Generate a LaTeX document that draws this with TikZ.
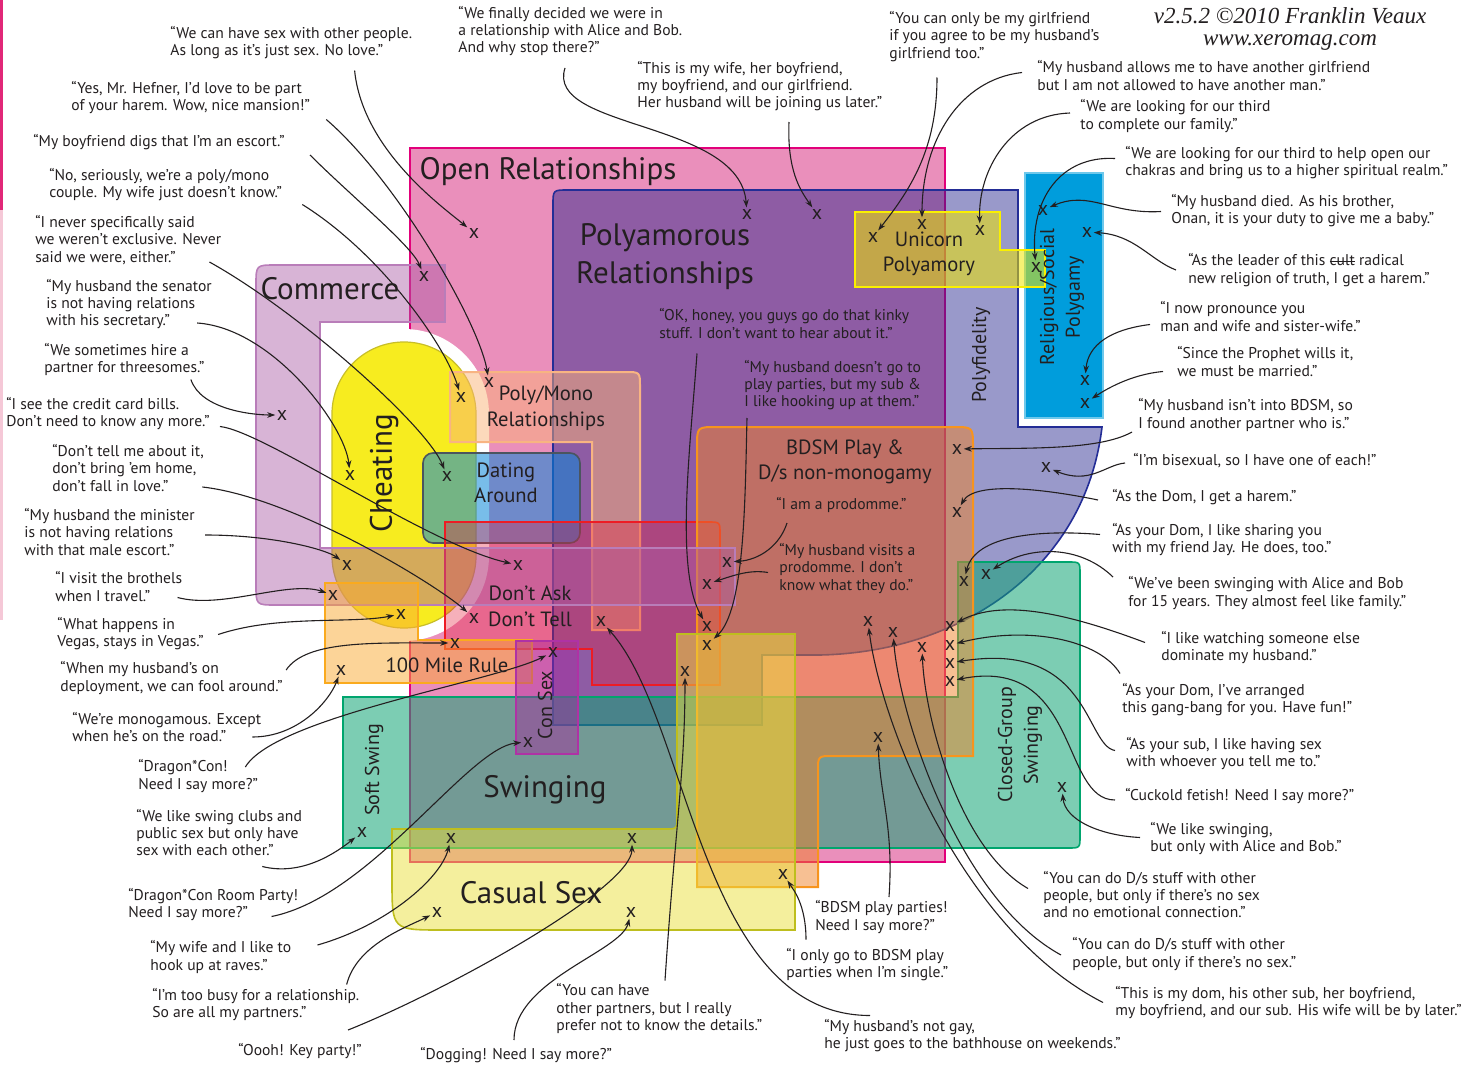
\documentclass[tikz,border=0pt]{standalone}
\usepackage{fontspec}
\usetikzlibrary{positioning,arrows.meta,calc}
\newfontfamily\labfont{PT Sans}
\newfontfamily\credfont{Liberation Serif}
\newcommand\qtfont{\labfont\fontsize{7.8}{8.6}\selectfont}
\newcommand\xmfont{\labfont\fontsize{10}{10}\selectfont}
\newcommand\biglabfont{\labfont\fontsize{15.5}{19}\selectfont}
\newcommand\midlabfont{\labfont\fontsize{10.3}{12.8}\selectfont}
\newcommand\smlabfont{\labfont\fontsize{10}{12.8}\selectfont}
\newcommand\strikeword[1]{\setbox0\hbox{#1}\rlap{\rule[0.27em]{\wd0}{0.4pt}}\box0\relax}
\definecolor{ink}{RGB}{35,31,32}
\definecolor{openfill}{RGB}{234,143,187}
\definecolor{openline}{RGB}{226,0,122}
\definecolor{cheatfill}{RGB}{247,236,31}
\definecolor{cheatline}{RGB}{200,190,40}
\definecolor{commfill}{RGB}{170,90,165}
\definecolor{commline}{RGB}{185,125,185}
\definecolor{polyfill}{RGB}{31,31,138}
\definecolor{polyline}{RGB}{35,45,150}
\definecolor{religfill}{RGB}{0,157,220}
\definecolor{religline}{RGB}{110,200,235}
\definecolor{pmfill}{RGB}{250,180,120}
\definecolor{pmline}{RGB}{248,180,130}
\definecolor{datefill}{RGB}{10,135,215}
\definecolor{dateline}{RGB}{75,85,95}
\definecolor{dadtfill}{RGB}{230,30,60}
\definecolor{dadtline}{RGB}{237,28,36}
\definecolor{bdsmfill}{RGB}{240,130,40}
\definecolor{bdsmline}{RGB}{247,148,29}
\definecolor{swingfill}{RGB}{18,164,118}
\definecolor{swingline}{RGB}{0,165,110}
\definecolor{milefill}{RGB}{250,170,50}
\definecolor{mileline}{RGB}{250,170,30}
\definecolor{casfill}{RGB}{235,225,60}
\definecolor{casline}{RGB}{190,190,30}
\definecolor{confill}{RGB}{170,40,160}
\definecolor{conline}{RGB}{175,50,165}
\definecolor{unifill}{RGB}{240,230,0}
\definecolor{uniline}{RGB}{250,240,0}
\definecolor{stripa}{RGB}{225,40,120}
\definecolor{stripb}{RGB}{245,200,215}
\tikzset{
  quotebox/.style={font=\qtfont, align=left, inner sep=0pt, anchor=west, text=ink},
  xmark/.style={font=\xmfont, inner sep=0.6pt, text=ink},
  arr/.style={-{Stealth[length=4pt,width=2.8pt]}, line width=0.55pt, draw=ink},
  biglab/.style={font=\biglabfont, text=ink, align=center},
  midlab/.style={font=\midlabfont, text=ink, align=center},
  smlab/.style={font=\smlabfont, text=ink, align=center, rotate=90},
  zone/.style={line width=0.8pt}}

\begin{document}
\begin{tikzpicture}[x=0.5pt,y=-0.5pt]
\useasboundingbox (0,0) rectangle (1480,1092);
\fill[white] (0,0) rectangle (1480,1092);
\fill[stripa] (0,0) rectangle (3,210);
\fill[stripb] (0,210) rectangle (3,620);

% regions
\path[zone, fill=openfill, draw=openline] (410,148) rectangle (945,862);
\fill[white, rounded corners=42.5pt] (319,329) rectangle (489,641);
\path[zone, fill=cheatfill, draw=cheatline, line width=0.6pt, rounded corners=36pt] (332,342) rectangle (476,628);
\path[zone, fill=polyfill, fill opacity=0.45, draw=polyline] (553,725) -- (553,205) .. controls (553,190) .. (568,190) -- (1018,190) -- (1018,427) -- (1102,427) .. controls (1085,570) and (960,652) .. (820,655) -- (762,655) -- (762,725) -- cycle;
\path[zone, fill=religfill, draw=religline] (1025,173) rectangle (1103,418);
\path[zone, fill=pmfill, fill opacity=0.5, draw=pmline, line width=1pt] (450,372) -- (625,372) .. controls (640,372) .. (640,387) -- (640,630) -- (592,630) -- (592,442) -- (450,442) -- cycle;
\path[zone, fill=datefill, fill opacity=0.55, draw=dateline, rounded corners=5pt] (423,453) rectangle (580,543);
\path[zone, fill=dadtfill, fill opacity=0.35, draw=dadtline] (445,522) -- (708,522) .. controls (720,522) .. (720,534) -- (720,685) -- (592,685) -- (592,649) -- (445,649) -- cycle;
\path[zone, fill=swingfill, fill opacity=0.55, draw=swingline] (343,697) -- (958,697) -- (958,562) -- (1068,562) .. controls (1080,562) .. (1080,574) -- (1080,836) .. controls (1080,848) .. (1068,848) -- (343,848) -- cycle;
\path[zone, fill=bdsmfill, fill opacity=0.5, draw=bdsmline, line width=1pt] (697,447) .. controls (697,427) .. (717,427) -- (953,427) .. controls (973,427) .. (973,447) -- (973,756) -- (833,756) .. controls (818,756) .. (818,771) -- (818,887) -- (697,887) -- cycle;
\path[zone, fill=commfill, fill opacity=0.45, draw=commline] (256,285) .. controls (256,265) .. (276,265) -- (445,265) -- (445,322) -- (320,322) -- (320,548) -- (735,548) -- (735,605) -- (276,605) .. controls (256,605) .. (256,585) -- cycle;
\path[zone, fill=milefill, fill opacity=0.5, draw=mileline, line width=1pt] (325,583) -- (418,583) -- (418,640) -- (532,640) -- (532,683) -- (325,683) -- cycle;
\path[zone, fill=casfill, fill opacity=0.5, draw=casline] (392,829) -- (665,829) .. controls (677,829) .. (677,817) -- (677,634) -- (795,634) -- (795,930) -- (442,930) .. controls (392,930) .. (392,880) -- cycle;
\path[zone, fill=confill, fill opacity=0.45, draw=conline] (516,641) rectangle (578,754);
\path[zone, fill=unifill, fill opacity=0.55, draw=uniline, line width=1.1pt] (855,212) -- (1000,212) -- (1000,250) -- (1045,250) -- (1045,287) -- (855,287) -- cycle;

% region labels
\node[biglab] (open) at (548,172) {Open Relationships};
\node[biglab] (poly) at (665,257) {Polyamorous\\Relationships};
\node[biglab] (comm) at (330,289) {Commerce};
\node[biglab, rotate=90] (cheat) at (384,473) {Cheating};
\node[biglab] (swing) at (545,790) {Swinging};
\node[biglab] (casual) at (531,893) {Casual Sex};
\node[midlab] (polymono) at (546,408) {Poly/Mono\\Relationships};
\node[midlab] (dating) at (506,483) {Dating\\Around};
\node[midlab] (dadt) at (530,606) {Don’t Ask\\Don’t Tell};
\node[midlab] (bdsm) at (845,462) {BDSM Play \&\\D/s non-monogamy};
\node[midlab] (mile) at (447,665) {100 Mile Rule};
\node[midlab] (unicorn) at (929,254) {Unicorn\\Polyamory};
\node[smlab] (consex) at (545,705) {Con Sex};
\node[smlab] (soft) at (374,770) {Soft Swing};
\node[smlab] (polyfid) at (981,355) {Polyfidelity};
\node[smlab] (relig) at (1062,297) {Religious/Social\\Polygamy};
\node[smlab] (closed) at (1020,745) {Closed-Group\\Swinging};
\node[font=\credfont\itshape\fontsize{11.5}{10.6}\selectfont, align=center, text=ink] (credit) at (1290,29) {v2.5.2 ©2010 Franklin Veaux\\www.xeromag.com};

% marks
\node[xmark] (xa) at (474,233) {x};
\node[xmark] (xb) at (424,276) {x};
\node[xmark] (xc) at (282,415) {x};
\node[xmark] (xd) at (350,475) {x};
\node[xmark] (xe) at (461,397) {x};
\node[xmark] (xf) at (489,382) {x};
\node[xmark] (xg) at (447,476) {x};
\node[xmark] (xh) at (347,565) {x};
\node[xmark] (xi) at (518,565) {x};
\node[xmark] (xj) at (474,618) {x};
\node[xmark] (xk) at (333,595) {x};
\node[xmark] (xl) at (401,614) {x};
\node[xmark] (xm) at (455,643) {x};
\node[xmark] (xn) at (341,670) {x};
\node[xmark] (xo) at (553,652) {x};
\node[xmark] (xp) at (528,742) {x};
\node[xmark] (xq) at (362,832) {x};
\node[xmark] (xr) at (451,838) {x};
\node[xmark] (xs) at (632,838) {x};
\node[xmark] (xt) at (437,912) {x};
\node[xmark] (xu) at (631,912) {x};
\node[xmark] (xv) at (601,621) {x};
\node[xmark] (xw) at (685,671) {x};
\node[xmark] (xA) at (747,214) {x};
\node[xmark] (xB) at (817,214) {x};
\node[xmark] (xC) at (873,237) {x};
\node[xmark] (xD) at (922,224) {x};
\node[xmark] (xE) at (980,230) {x};
\node[xmark] (xF) at (1036,267) {x};
\node[xmark] (xG) at (1043,210) {x};
\node[xmark] (xH) at (1087,232) {x};
\node[xmark] (xI) at (1085,380) {x};
\node[xmark] (xJ) at (1085,403) {x};
\node[xmark] (xK) at (957,449) {x};
\node[xmark] (xL) at (1046,467) {x};
\node[xmark] (xM) at (957,512) {x};
\node[xmark] (xN) at (964,581) {x};
\node[xmark] (xO) at (986,574) {x};
\node[xmark] (xQ) at (878,737) {x};
\node[xmark] (xR) at (783,874) {x};
\node[xmark] (xS) at (1062,787) {x};
\node[xmark] (xT) at (707,626) {x};
\node[xmark] (xU) at (707,645) {x};
\node[xmark] (xV) at (727,562) {x};
\node[xmark] (xW) at (707,584) {x};
\node[xmark] (c1) at (950,626) {x};
\node[xmark] (c2) at (950,645) {x};
\node[xmark] (c3) at (950,663) {x};
\node[xmark] (c4) at (950,681) {x};
\node[xmark] (z1) at (868,621) {x};
\node[xmark] (z2) at (893,632) {x};
\node[xmark] (z3) at (922,647) {x};

% quotes, left
\node[quotebox] (l1) at (170,42.5) {“We can have sex with other people.\\As long as it’s just sex. No love.”};
\node[quotebox] (l2) at (71,97.5) {“Yes, Mr. Hefner, I’d love to be part\\of your harem. Wow, nice mansion!”};
\node[quotebox] (l3) at (33,142) {“My boyfriend digs that I’m an escort.”};
\node[quotebox] (l4) at (49,184.5) {“No, seriously, we’re a poly/mono\\couple. My wife just doesn’t know.”};
\node[quotebox] (l5) at (35,240) {“I never specifically said\\we weren’t exclusive. Never\\said we were, either.”};
\node[quotebox] (l6) at (46,304) {“My husband the senator\\is not having relations\\with his secretary.”};
\node[quotebox] (l7) at (44,359.5) {“We sometimes hire a\\partner for threesomes.”};
\node[quotebox] (l8) at (6,413.5) {“I see the credit card bills.\\Don’t need to know any more.”};
\node[quotebox] (l9) at (52,468) {“Don’t tell me about it,\\don’t bring ’em home,\\don’t fall in love.”};
\node[quotebox] (l10) at (24,532) {“My husband the minister\\is not having relations\\with that male escort.”};
\node[quotebox] (l11) at (55,586.5) {“I visit the brothels\\when I travel.”};
\node[quotebox] (l12) at (57,633.5) {“What happens in\\Vegas, stays in Vegas.”};
\node[quotebox] (l13) at (60,678) {“When my husband’s on\\deployment, we can fool around.”};
\node[quotebox] (l14) at (72,727) {“We’re monogamous. Except\\when he’s on the road.”};
\node[quotebox] (l15) at (138,776) {“Dragon*Con!\\Need I say more?”};
\node[quotebox] (l16) at (136,832.5) {“We like swing clubs and\\public sex but only have\\sex with each other.”};
\node[quotebox] (l17) at (128,904.5) {“Dragon*Con Room Party!\\Need I say more?”};
\node[quotebox] (l18) at (150,957) {“My wife and I like to\\hook up at raves.”};
\node[quotebox] (l19) at (152,1004.5) {“I’m too busy for a relationship.\\So are all my partners.”};
\node[quotebox] (l20) at (238,1051) {“Oooh! Key party!”};
% quotes, bottom
\node[quotebox] (b1) at (420,1055) {“Dogging! Need I say more?”};
\node[quotebox] (b2) at (556,1008.5) {“You can have\\other partners, but I really\\prefer not to know the details.”};
\node[quotebox] (b3) at (824,1035.5) {“My husband’s not gay,\\he just goes to the bathhouse on weekends.”};
\node[quotebox] (b4) at (786,964.5) {“I only go to BDSM play\\parties when I’m single.”};
\node[quotebox] (b5) at (815,917) {“BDSM play parties!\\Need I say more?”};
\node[quotebox] (d1) at (1043,894.5) {“You can do D/s stuff with other\\people, but only if there’s no sex\\and no emotional connection.”};
\node[quotebox] (d2) at (1072,954) {“You can do D/s stuff with other\\people, but only if there’s no sex.”};
\node[quotebox] (d3) at (1115,1002.5) {“This is my dom, his other sub, her boyfriend,\\my boyfriend, and our sub. His wife will be by later.”};
% quotes, right
\node[quotebox] (s1) at (1150,838.5) {“We like swinging,\\but only with Alice and Bob.”};
\node[quotebox] (r13) at (1125,796) {“Cuckold fetish! Need I say more?”};
\node[quotebox] (r12) at (1126,753.5) {“As your sub, I like having sex\\with whoever you tell me to.”};
\node[quotebox] (r11) at (1122,699.5) {“As your Dom, I’ve arranged\\this gang-bang for you. Have fun!”};
\node[quotebox] (r10) at (1161,647.5) {“I like watching someone else\\dominate my husband.”};
\node[quotebox] (r9) at (1128,593) {“We’ve been swinging with Alice and Bob\\for 15 years. They almost feel like family.”};
\node[quotebox] (r8) at (1112,539.5) {“As your Dom, I like sharing you\\with my friend Jay. He does, too.”};
\node[quotebox] (r7) at (1112,497) {“As the Dom, I get a harem.”};
\node[quotebox] (r6) at (1133,461) {“I’m bisexual, so I have one of each!”};
\node[quotebox] (r5) at (1138,415) {“My husband isn’t into BDSM, so\\I found another partner who is.”};
\node[quotebox] (r4) at (1177,361.5) {“Since the Prophet wills it,\\we must be married.”};
\node[quotebox] (r3) at (1160,316.5) {“I now pronounce you\\man and wife and sister-wife.”};
\node[quotebox] (r2) at (1188,270) {“As the leader of this \strikeword{cult} radical\\new religion of truth, I get a harem.”};
\node[quotebox] (r1) at (1171,210.5) {“My husband died. As his brother,\\Onan, it is your duty to give me a baby.”};
% quotes, top
\node[quotebox] (t6) at (1125,162.5) {“We are looking for our third to help open our\\chakras and bring us to a higher spiritual realm.”};
\node[quotebox] (t5) at (1080,116) {“We are looking for our third\\to complete our family.”};
\node[quotebox] (t4) at (1037,75.5) {“My husband allows me to have another girlfriend\\but I am not allowed to have another man.”};
\node[quotebox] (t3) at (889,36.5) {“You can only be my girlfriend\\if you agree to be my husband’s\\girlfriend too.”};
\node[quotebox] (t2) at (637,86) {“This is my wife, her boyfriend,\\my boyfriend, and our girlfriend.\\Her husband will be joining us later.”};
\node[quotebox] (t1) at (458,31) {“We finally decided we were in\\a relationship with Alice and Bob.\\And why stop there?”};
% quotes, inside
\node[quotebox] (i1) at (659,323.5) {“OK, honey, you guys go do that kinky\\stuff. I don’t want to hear about it.”};
\node[quotebox] (i2) at (744,385) {“My husband doesn’t go to\\play parties, but my sub \&\\I like hooking up at them.”};
\node[quotebox] (i3) at (776,505) {“I am a prodomme.”};
\node[quotebox] (i4) at (779,568.5) {“My husband visits a\\prodomme. I don’t\\know what they do.”};

% arrows, left
\draw[arr] ($(l1.east)+(-58,28)$) .. controls +(8,80) and +(-30,-25) .. (xa);
\draw[arr] ($(l2.east)+(16,22)$) .. controls +(70,60) and +(-10,-60) .. (xf);
\draw[arr] ($(l3.east)+(25,13)$) .. controls +(40,40) and +(-12,-30) .. (xb);
\draw[arr] ($(l4.east)+(20,20)$) .. controls +(80,50) and +(-15,-50) .. (xe);
\draw[arr] ($(l5.east)+(-12,22)$) .. controls +(90,50) and +(-20,-50) .. (xg);
\draw[arr] ($(l6.east)+(-15,19)$) .. controls +(75,5) and +(-5,-50) .. (xd);
\draw[arr] ($(l7.east)+(-14,20)$) .. controls +(10,30) and +(-30,0) .. (xc);
\draw[arr] ($(l8.east)+(10,13)$) .. controls +(45,5) and +(-90,-20) .. (xi);
\draw[arr] ($(l9.east)+(-2,19)$) .. controls +(90,10) and +(-40,-35) .. (xj);
\draw[arr] ($(l10.east)+(10,3)$) .. controls +(70,0) and +(-20,-15) .. (xh);
\draw[arr] ($(l11.east)+(-5,11)$) .. controls +(45,12) and +(-45,-15) .. (xk);
\draw[arr] ($(l12.east)+(14,1)$) .. controls +(60,-20) and +(-50,10) .. (xl);
\draw[arr] ($(l13.east)+(3,-8)$) .. controls +(20,-30) and +(-80,0) .. (xm);
\draw[arr] ($(l14.east)+(-9,10)$) .. controls +(45,0) and +(-12,32) .. (xn);
\draw[arr] ($(l15.east)+(-13,-9)$) .. controls +(30,-50) and +(-60,30) .. (xo);
\draw[arr] ($(l16.east)+(-40,34)$) .. controls +(40,10) and +(-25,20) .. (xq);
\draw[arr] ($(l17.east)+(-27,12)$) .. controls +(100,-20) and +(-60,5) .. (xp);
\draw[arr] ($(l18.east)+(26,-12)$) .. controls +(70,-20) and +(-10,40) .. (xr);
\draw[arr] ($(l19.east)+(-13,-20)$) .. controls +(10,-40) and +(-30,15) .. (xt);
\draw[arr] ($(l20.east)+(-14,-21)$) .. controls +(100,-40) and +(0,50) .. (xs);
% arrows, bottom
\draw[arr] ($(b1.west)+(94,-15)$) .. controls +(0,-60) and +(-10,40) .. (xu);
\draw[arr] ($(b2.west)+(109,-28)$) .. controls +(10,-150) and +(0,100) .. (xw);
\draw[arr] ($(b3.west)+(46,-20)$) .. controls +(-170,0) and +(89,99) .. (xv);
\draw[arr] ($(b4.west)+(20,-25)$) .. controls +(0,-35) and +(10,15) .. (xR);
\draw[arr] ($(b5.west)+(74,-20)$) .. controls +(5,-70) and +(2,60) .. (xQ);
\draw[arr] ($(d1.west)+(-15,-6)$) .. controls +(-68,-39) and +(3,73) .. (z3);
\draw[arr] ($(d2.west)+(-11,1)$) .. controls +(-101,-55) and +(7,88) .. (z2);
\draw[arr] ($(d3.west)+(-12,0)$) .. controls +(-143,-73) and +(12,99) .. (z1);
% arrows, right
\draw[arr] ($(s1.west)+(-10,-1)$) .. controls +(-40,-2) and +(3,33) .. (xS);
\draw[arr] ($(r13.west)+(-10,4)$) .. controls +(-55,0) and +(130,-26) .. (c4);
\draw[arr] ($(r12.west)+(-11,-3)$) .. controls +(-30,-5) and +(140,-23) .. (c3);
\draw[arr] ($(r11.west)+(-2,-26)$) .. controls +(-20,-33) and +(80,-20) .. (c2);
\draw[arr] ($(r10.west)+(-16,-5)$) .. controls +(-85,-32) and +(50,-26) .. (c1);
\draw[arr] ($(r9.west)+(-15,-16)$) .. controls +(-33,-32) and +(44,-29) .. (xO);
\draw[arr] ($(r8.west)+(-12,-5)$) .. controls +(-60,-5) and +(11,-46) .. (xN);
\draw[arr] ($(r7.west)+(-14,3)$) .. controls +(-48,-10) and +(18,-32) .. (xM);
\draw[arr] ($(r6.west)+(-8,2)$) .. controls +(-20,2) and +(44,18) .. (xL);
\draw[arr] ($(r5.west)+(-6,17)$) .. controls +(-32,18) and +(73,-1) .. (xK);
\draw[arr] ($(r4.west)+(-14,10)$) .. controls +(-33,3) and +(20,-13) .. (xJ);
\draw[arr] ($(r3.west)+(-10,8)$) .. controls +(-40,5) and +(3,-35) .. (xI);
\draw[arr] ($(r2.west)+(-12,0)$) .. controls +(-26,-10) and +(48,3) .. (xH);
\draw[arr] ($(r1.west)+(-10,1)$) .. controls +(-51,3) and +(47,-20) .. (xG);
% arrows, top
\draw[arr] ($(t6.west)+(-10,-4)$) .. controls +(-55,-3) and +(-6,-67) .. (xF);
\draw[arr] ($(t5.west)+(-10,-3)$) .. controls +(-60,2) and +(-2,-60) .. (xE);
\draw[arr] ($(t4.west)+(-15,-3)$) .. controls +(-62,7) and +(0,-84) .. (xD);
\draw[arr] ($(t3.west)+(48,41)$) .. controls +(0,72) and +(37,-47) .. (xC);
\draw[arr] ($(t2.west)+(152,36)$) .. controls +(-2,48) and +(-17,-24) .. (xB);
\draw[arr] ($(t1.west)+(107,37)$) .. controls +(-20,62) and +(-7,-94) .. (xA);
% arrows, inside
\draw[arr] ($(i1.west)+(38,30)$) .. controls +(-7,97) and +(-32,-56) .. (xT);
\draw[arr] ($(i2.west)+(3,33)$) .. controls +(-2,82) and +(38,-35) .. (xU);
\draw[arr] ($(i3.west)+(11,18)$) .. controls +(-7,22) and +(33,-2) .. (xV);
\draw[arr] ($(i4.west)+(-11,4)$) .. controls +(-18,-3) and +(28,-9) .. (xW);
\end{tikzpicture}
\end{document}
